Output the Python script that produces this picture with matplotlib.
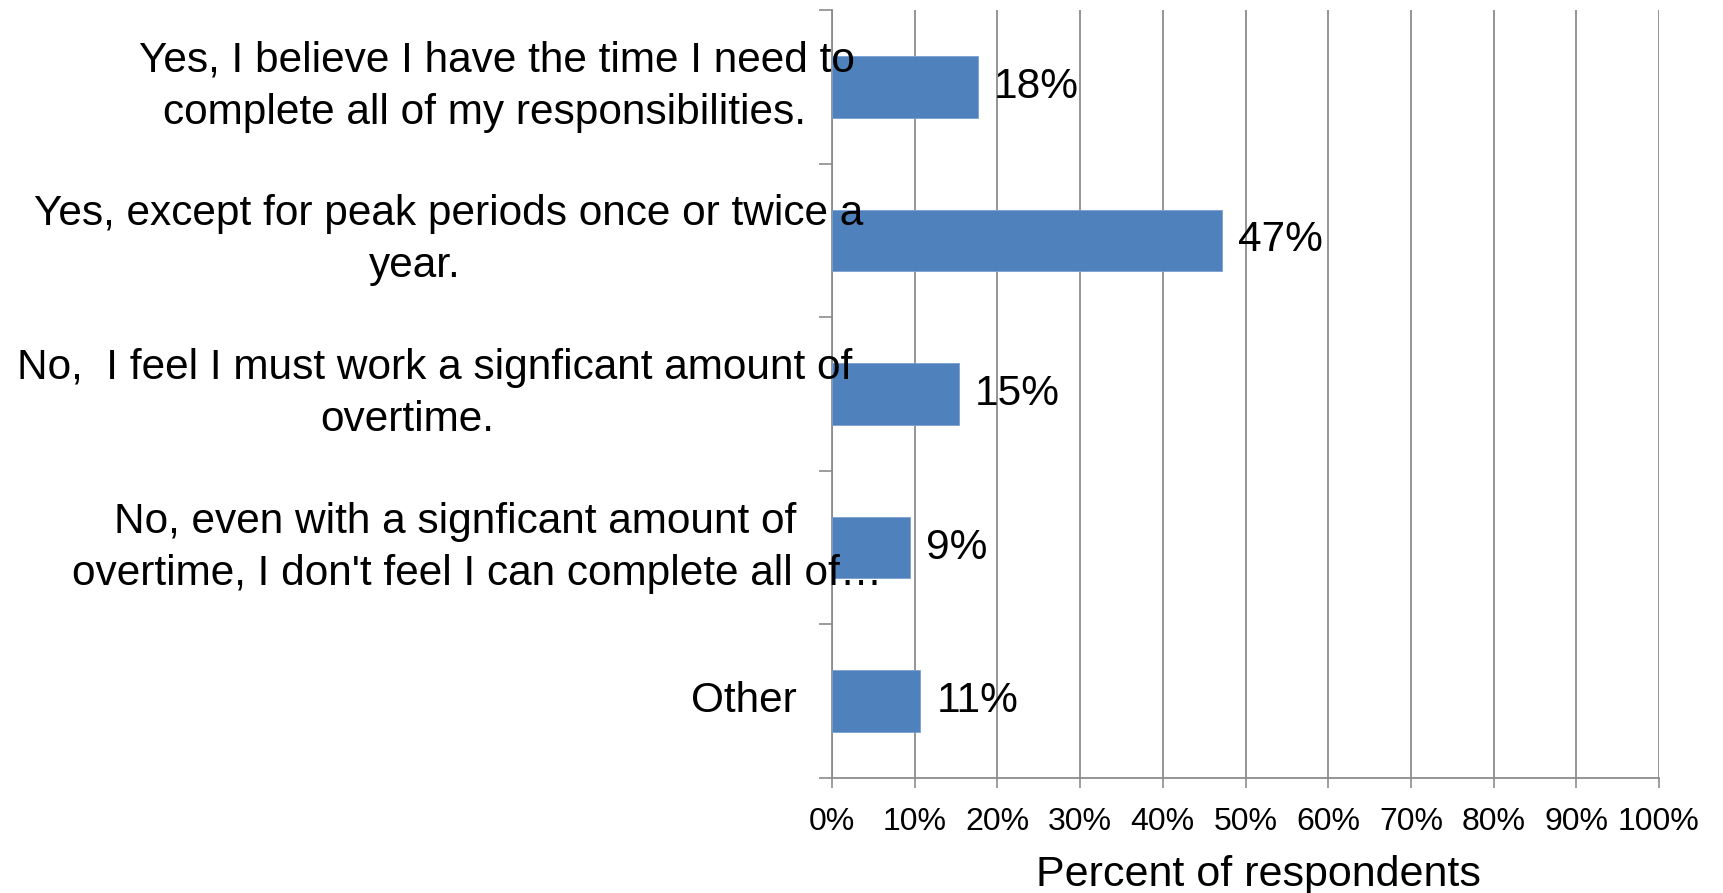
import matplotlib
matplotlib.use("Agg")
import matplotlib.pyplot as plt
import matplotlib.transforms as mtransforms

plt.rcParams['font.family'] = ['Liberation Sans', 'DejaVu Sans']

categories = [
    "Yes, I believe I have the time I need to\ncomplete all of my responsibilities.",
    "Yes, except for peak periods once or twice a\nyear.",
    "No,  I feel I must work a signficant amount of\novertime.",
    "No, even with a signficant amount of\novertime, I don't feel I can complete all of\u2026",
    "Other",
]
values = [17.6, 47.1, 15.3, 9.4, 10.6]
value_labels = ["18%", "47%", "15%", "9%", "11%"]
x_ticks = [0, 10, 20, 30, 40, 50, 60, 70, 80, 90, 100]
x_tick_labels = [f"{t}%" for t in x_ticks]
x_label = "Percent of respondents"

W, H = 1723, 893
fig = plt.figure(figsize=(W / 100, H / 100), dpi=100)
ax = fig.add_axes([832 / W, 1 - 778 / H, (1659 - 832) / W, (778 - 10) / H])

grid_c = "#8c8c8c"
bar_c = "#4f81bd"

ypos = list(range(len(categories)))
ax.barh(ypos, values, height=0.4, color=bar_c, edgecolor="#7a9fd0", linewidth=0.6, zorder=3)
ax.set_ylim(len(categories) - 0.5, -0.5)
ax.set_xlim(0, 100)

# gridlines
ax.set_xticks(x_ticks)
ax.set_xticklabels(x_tick_labels, fontsize=23)
ax.xaxis.grid(True, color=grid_c, linewidth=1.3, zorder=0)
ax.tick_params(axis='x', length=7, width=1.2, color=grid_c, pad=14)

# category boundary ticks
ax.set_yticks([i - 0.5 for i in range(len(categories) + 1)])
ax.set_yticklabels([])
ax.tick_params(axis='y', length=9.5, width=1.2, color=grid_c)

for s in ['top', 'right']:
    ax.spines[s].set_visible(False)
for s in ['left', 'bottom']:
    ax.spines[s].set_color(grid_c)
    ax.spines[s].set_linewidth(1.3)

# value labels
for y, v, lab in zip(ypos, values, value_labels):
    ax.annotate(lab, (v, y), xytext=(12, 0), textcoords='offset points',
                ha='left', va='center', fontsize=30.5)

# category labels: each wrapped line centred at its own x (figure pixels)
line_centers_px = [(497, 485), (449, 415), (435, 407), (455, 477), (744,)]
line_gap_px = 52
tr = mtransforms.blended_transform_factory(fig.transFigure, ax.transData)
for y, lab, cxs in zip(ypos, categories, line_centers_px):
    lines = lab.split("\n")
    n = len(lines)
    for i, (ln, cx) in enumerate(zip(lines, cxs)):
        dy = (i - (n - 1) / 2) * line_gap_px
        off = mtransforms.ScaledTranslation(0, -dy / 100, fig.dpi_scale_trans)
        ax.text(cx / W, y, ln, transform=tr + off, ha='center', va='center',
                fontsize=30.5, clip_on=False)

ax.set_xlabel(x_label, fontsize=31, va='center')
ax.xaxis.set_label_coords((1258 - 832) / (1659 - 832), -(875 - 778) / (778 - 10))

fig.savefig("out.png", dpi=100)
